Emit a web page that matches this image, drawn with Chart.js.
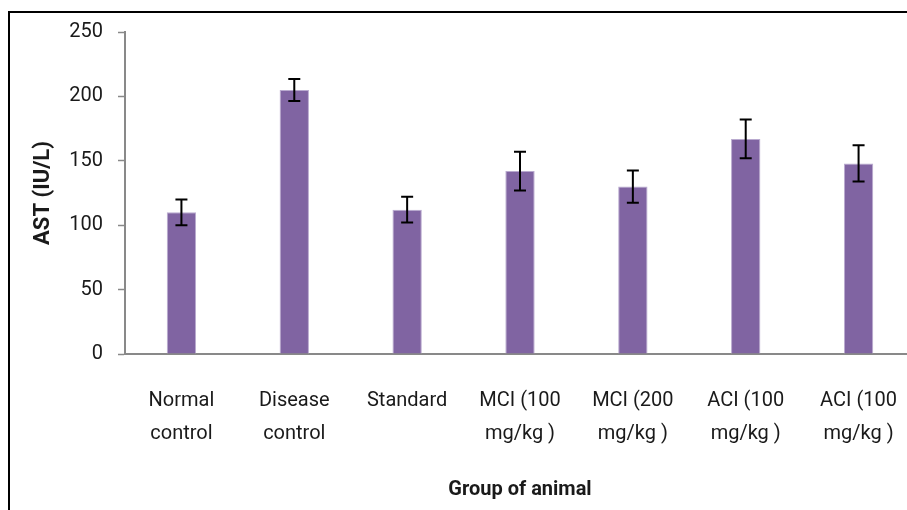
<!DOCTYPE html>
<html>
<head>
<meta charset="utf-8">
<script src="https://cdn.jsdelivr.net/npm/chart.js@4.4.1/dist/chart.umd.min.js"></script>
<style>
    html, body { margin: 0; padding: 0; background: #fff; overflow: hidden; }
    #wrap { position: relative; width: 907px; height: 510px; overflow: hidden; }
    #frame {
        position: absolute; left: 8px; top: 11px; width: 1000px; height: 600px;
        border-top: 2px solid #000; border-left: 2px solid #000;
    }
    canvas { position: absolute; left: 0; top: 0; }
</style>
</head>
<body>
<div id="wrap">
    <div id="frame"></div>
    <canvas id="ast-chart" width="915" height="510"></canvas>
</div>
<script>
// Data
const groups = [
    ['Normal', 'control'],
    ['Disease', 'control'],
    'Standard',
    ['MCI (100', 'mg/kg )'],
    ['MCI (200', 'mg/kg )'],
    ['ACI (100', 'mg/kg )'],
    ['ACI (100', 'mg/kg )']
];
const astMeans = [110, 205, 112, 142, 130, 167, 148];
const astErrors = [10, 8.5, 10, 15, 12.5, 15, 14];
const yTicks = [0, 50, 100, 150, 200, 250];

const axisGrey = '#898989';
const labelColor = '#1a1a1a';
const fontFace = 'Roboto, "DejaVu Sans Condensed", sans-serif';

// draws the +/- error bars on top of each bar
const errorBars = {
    id: 'errorBars',
    afterDatasetsDraw(chart) {
        const ctx = chart.ctx;
        const yScale = chart.scales.y;
        const meta = chart.getDatasetMeta(0);
        ctx.save();
        ctx.strokeStyle = '#000';
        ctx.lineWidth = 2;
        meta.data.forEach((bar, i) => {
            const top = yScale.getPixelForValue(astMeans[i] + astErrors[i]);
            const bottom = yScale.getPixelForValue(astMeans[i] - astErrors[i]);
            const half = 6;
            ctx.beginPath();
            ctx.moveTo(bar.x, top);
            ctx.lineTo(bar.x, bottom);
            ctx.moveTo(bar.x - half, top);
            ctx.lineTo(bar.x + half, top);
            ctx.moveTo(bar.x - half, bottom);
            ctx.lineTo(bar.x + half, bottom);
            ctx.stroke();
        });
        ctx.restore();
    }
};

const ctx = document.getElementById('ast-chart').getContext('2d');
new Chart(ctx, {
    type: 'bar',
    data: {
        labels: groups,
        datasets: [{
            label: 'AST (IU/L)',
            data: astMeans,
            backgroundColor: '#8064A2',
            borderColor: '#B9AACF',
            borderWidth: 1,
            barPercentage: 0.26,
            categoryPercentage: 1
        }]
    },
    options: {
        responsive: false,
        animation: false,
        devicePixelRatio: 1,
        layout: { padding: { left: 8, top: 32, right: 0, bottom: 0 } },
        plugins: {
            legend: { display: false },
            tooltip: { enabled: false }
        },
        scales: {
            x: {
                grid: { display: false, drawTicks: false },
                border: { color: axisGrey, width: 2 },
                ticks: {
                    color: labelColor,
                    padding: 30,
                    maxRotation: 0,
                    autoSkip: false,
                    font: { family: fontFace, size: 20, lineHeight: 1.65 }
                },
                title: {
                    display: true,
                    text: 'Group of animal',
                    color: labelColor,
                    padding: { top: 0, bottom: 8 },
                    font: { family: fontFace, size: 20, weight: 'bold', lineHeight: 1.2 }
                },
                afterFit(scale) {
                    scale.height = 156;
                    scale.paddingLeft = 0;
                    scale.paddingRight = 0;
                }
            },
            y: {
                min: 0,
                max: 250,
                afterBuildTicks(scale) {
                    scale.ticks = yTicks.map(v => ({ value: v }));
                },
                grid: {
                    drawOnChartArea: false,
                    drawTicks: true,
                    tickLength: 7,
                    tickColor: axisGrey,
                    tickWidth: 1.5
                },
                border: { color: axisGrey, width: 2 },
                ticks: {
                    color: labelColor,
                    padding: 15,
                    font: { family: fontFace, size: 20 }
                },
                title: {
                    display: true,
                    text: 'AST (IU/L)',
                    color: labelColor,
                    padding: { top: 22, bottom: 0 },
                    font: { family: fontFace, size: 22, weight: 'bold', lineHeight: 1.2 }
                },
                afterFit(scale) { scale.width = 117; }
            }
        }
    },
    plugins: [errorBars]
});
</script>
</body>
</html>
